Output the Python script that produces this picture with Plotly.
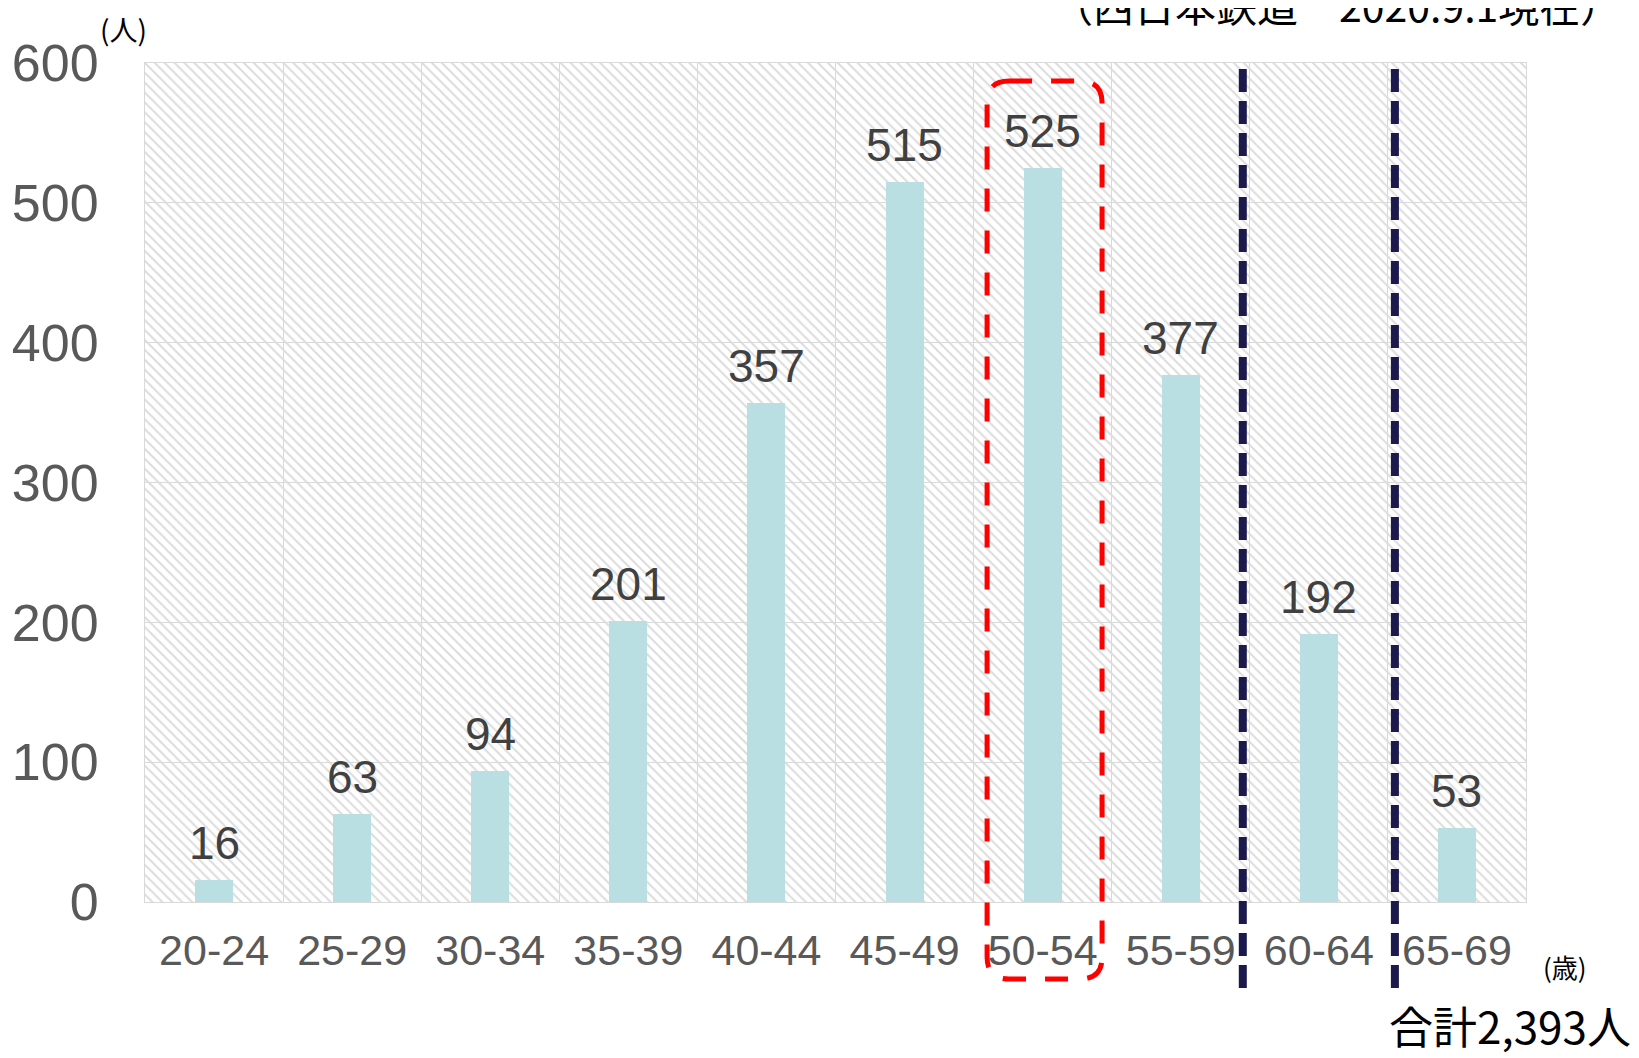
import plotly.graph_objects as go

# ---------------- data ----------------
categories = ["20-24", "25-29", "30-34", "35-39", "40-44",
              "45-49", "50-54", "55-59", "60-64", "65-69"]
values = [16, 63, 94, 201, 357, 515, 525, 377, 192, 53]
y_tick_values = [0, 100, 200, 300, 400, 500, 600]
y_tick_labels = ["0", "100", "200", "300", "400", "500", "600"]
highlight_category = "50-54"
divider_categories = ["55-59", "60-64"]   # dashed navy line right after these
title_text = "（西日本鉄道　2020.9.1現在）"
y_unit_text = "(人)"
x_unit_text = "(歳)"
total_text = "合計2,393人"

# ---------------- geometry ----------------
PAGE_OFF = 8            # default body margin of the html page
W, H = 1639 - PAGE_OFF, 1058 - PAGE_OFF
PW, PH = 1381, 839
M = dict(l=145 - PAGE_OFF, t=63 - PAGE_OFF)
M["r"] = W - M["l"] - PW
M["b"] = H - M["t"] - PH
Y_MAX = 600
X_MIN, X_MAX = -0.5, len(categories) - 0.5
CAT_PX = PW / len(categories)


def xfrac_idx(i):
    return (i - X_MIN) / (X_MAX - X_MIN)


def xfrac_px(p):          # page pixel -> paper x
    return (p - PAGE_OFF - M["l"]) / PW


def yfrac_px(p):          # page pixel -> paper y
    return (H - M["b"] - (p - PAGE_OFF)) / PH


SANS = "Liberation Sans, Arial, sans-serif"
CJK = "Noto Sans CJK JP, sans-serif"

fig = go.Figure()

# hatched background
fig.add_trace(go.Bar(
    x=categories, y=[Y_MAX] * len(categories), width=1.0,
    marker=dict(color="#dcdcdc", line=dict(width=0),
                pattern=dict(shape="\\", size=7, solidity=0.28,
                             fgcolor="#dcdcdc", fillmode="replace")),
    hoverinfo="skip", showlegend=False,
))

# data bars
fig.add_trace(go.Bar(
    x=categories, y=values, width=0.275,
    marker=dict(color="#badfe2", line=dict(width=0)),
    showlegend=False, hoverinfo="skip",
))

annotations = []
for c, v in zip(categories, values):
    annotations.append(dict(
        x=c, y=v, xref="x", yref="y", text=str(v), showarrow=False,
        yanchor="bottom", yshift=9,
        font=dict(family=SANS, size=46, color="#404040"),
    ))

annotations += [
    dict(x=xfrac_px(1336), y=yfrac_px(4), xref="paper", yref="paper",
         text=title_text, showarrow=False, xanchor="center", yanchor="middle",
         font=dict(family=CJK, size=41, color="#000000")),
    dict(x=xfrac_px(123), y=yfrac_px(29), xref="paper", yref="paper",
         text=y_unit_text, showarrow=False, xanchor="center", yanchor="middle",
         font=dict(family=CJK, size=28, color="#000000")),
    dict(x=xfrac_px(1565), y=yfrac_px(966), xref="paper", yref="paper",
         text=x_unit_text, showarrow=False, xanchor="center", yanchor="middle",
         font=dict(family=CJK, size=26, color="#000000")),
    dict(x=xfrac_px(1510), y=yfrac_px(1025), xref="paper", yref="paper",
         text=total_text, showarrow=False, xanchor="center", yanchor="middle",
         font=dict(family=CJK, size=44, color="#000000")),
]

shapes = []
# navy dashed dividers
for k, c in enumerate(divider_categories):
    b = categories.index(c) + 0.5
    off = (-7 if k == 0 else 7) / CAT_PX
    xx = xfrac_idx(b + off)
    shapes.append(dict(type="line", xref="paper", yref="paper",
                       x0=xx, x1=xx, y0=yfrac_px(988), y1=yfrac_px(60),
                       line=dict(color="#1c1a4d", width=8, dash="23px,9px")))

# red rounded dashed box around highlight category
hi = categories.index(highlight_category)
half = 57.5 / CAT_PX
x0 = xfrac_idx(hi - half + 0.014)
x1 = xfrac_idx(hi + half + 0.014)
y0 = yfrac_px(979)
y1 = yfrac_px(81)
rx = 22 / PW
ry = 22 / PH
path = (f"M {x0+rx},{y1} L {x1-rx},{y1} Q {x1},{y1} {x1},{y1-ry} "
        f"L {x1},{y0+ry} Q {x1},{y0} {x1-rx},{y0} L {x0+rx},{y0} "
        f"Q {x0},{y0} {x0},{y0+ry} L {x0},{y1-ry} Q {x0},{y1} {x0+rx},{y1} Z")
shapes.append(dict(type="path", xref="paper", yref="paper", path=path,
                   line=dict(color="#ff0000", width=5, dash="23px,19px"),
                   fillcolor="rgba(0,0,0,0)"))

fig.update_layout(
    width=W, height=H, margin=dict(M, autoexpand=False),
    paper_bgcolor="white", plot_bgcolor="white",
    barmode="overlay", bargap=0,
    showlegend=False,
    annotations=annotations, shapes=shapes,
    xaxis=dict(type="category", categoryorder="array", categoryarray=categories,
               range=[X_MIN, X_MAX], tickson="boundaries", automargin=False,
               showgrid=True, gridcolor="#d9d9d9", gridwidth=1,
               showline=True, linecolor="#d9d9d9", linewidth=1, mirror=True,
               ticks="", ticklabelstandoff=10,
               tickfont=dict(family=SANS, size=43, color="#595959"),
               fixedrange=True),
    yaxis=dict(range=[0, Y_MAX], tickvals=y_tick_values, ticktext=y_tick_labels,
               automargin=False,
               showgrid=True, gridcolor="#d9d9d9", gridwidth=1,
               showline=True, linecolor="#d9d9d9", linewidth=1, mirror=True,
               zeroline=False, ticks="", ticklabelstandoff=35,
               tickfont=dict(family=SANS, size=52, color="#595959"),
               fixedrange=True),
)

fig.write_html("out.html", config={"displayModeBar": False})
